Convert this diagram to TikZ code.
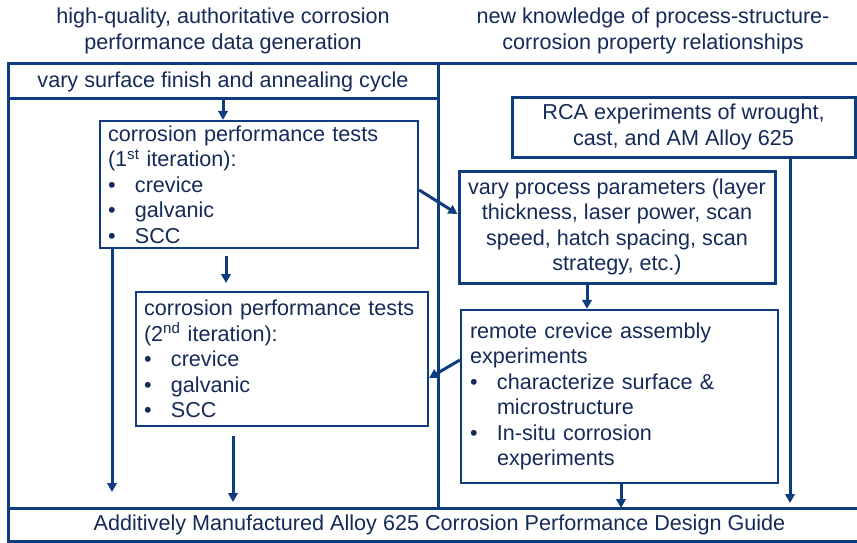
\documentclass[tikz,border=0pt]{standalone}
\usepackage{fontspec}
\setmainfont{Liberation Sans}
\usetikzlibrary{arrows.meta,calc}
\definecolor{navy}{RGB}{14,60,126}
\definecolor{ink}{RGB}{20,42,88}
\newcommand{\bul}{\makebox[27pt][l]{\textbullet}}
\newcommand{\hang}{\hspace*{27pt}}
\begin{document}
\begin{tikzpicture}[x=1pt,y=-1pt,
  font=\fontsize{21.6}{25.5}\selectfont,
  every node/.style={text=ink},
  frame/.style={draw=navy,line width=3pt},
  thinbox/.style={draw=navy,line width=2.2pt,inner xsep=8pt,inner ysep=0pt,align=left},
  thickbox/.style={draw=navy,line width=3pt,inner sep=0pt,align=center},
  arr/.style={draw=navy,line width=3pt,-{Triangle[length=9pt,width=9.5pt]}},
  label/.style={align=center,inner sep=0pt}]
\useasboundingbox (0,0) rectangle (857,543);

% column headings
\node[label] (hl) at (223,31) {high-quality, authoritative corrosion\\performance data generation};
\node[label] (hr) at (653,31) {new knowledge of process-structure-\\corrosion property relationships};

% outer frame, open on the right
\draw[frame] (857,64) -- (8,64) -- (8,541.5) -- (857,541.5);
\draw[frame] (8,508) -- (857,508);
\draw[frame] (438,64) -- (438,508);
\draw[frame] (8,98) -- (438,98);

% banner rows
\node[label] (surf) at (223,82) {vary surface finish and annealing cycle};
\node[label] (guide) at (439.5,525) {Additively Manufactured Alloy 625 Corrosion Performance Design Guide};

% left column boxes
\node[thinbox,minimum width=318,minimum height=127,text width=302] (it1) at (259,184.5)
  {corrosion performance tests\\(1\textsuperscript{st} iteration):\\\bul crevice\\\bul galvanic\\\bul SCC};
\node[thinbox,minimum width=292,minimum height=134,text width=276] (it2) at (282,359)
  {corrosion performance tests\\(2\textsuperscript{nd} iteration):\\\bul crevice\\\bul galvanic\\\bul SCC};

% right column boxes
\node[thickbox,minimum width=343,minimum height=60] (rca) at (683.5,127)
  {RCA experiments of wrought,\\cast, and AM Alloy 625};
\node[thickbox,minimum width=316,minimum height=112] (proc) at (617,227)
  {vary process parameters (layer\\thickness, laser power, scan\\speed, hatch spacing, scan\\strategy, etc.)};
\node[thinbox,inner xsep=9pt,minimum width=317,minimum height=173,text width=299] (rem) at (619.5,396.5)
  {remote crevice assembly\\experiments\\\bul characterize surface \&\\\hang microstructure\\\bul In-situ corrosion\\\hang experiments};

% free arrow ends
\coordinate (gapTop) at (226,256);
\coordinate (gapEnd) at (226,283);
\coordinate (leftEnd) at (112,492);
\coordinate (midStart) at (233,436);
\coordinate (midEnd) at (233,502);
\coordinate (rcaEnd) at (790,503);

% connectors
\draw[arr] (223,98) -- (it1.north -| 223,0);
\draw[arr] (gapTop) -- (gapEnd);
\draw[arr] (it1.south -| 112,0) -- (leftEnd);
\draw[arr] (midStart) -- (midEnd);
\draw[arr] (rca.south -| 790,0) -- (rcaEnd);
\draw[arr] (proc.south -| 587,0) -- (rem.north -| 587,0);
\draw[arr] (rem.south -| 621,0) -- (621,508);
\draw[arr] (it1.east |- 0,190) -- (proc.west |- 0,214);
\draw[arr] (rem.west |- 0,360) -- (it2.east |- 0,378);
\end{tikzpicture}
\end{document}
